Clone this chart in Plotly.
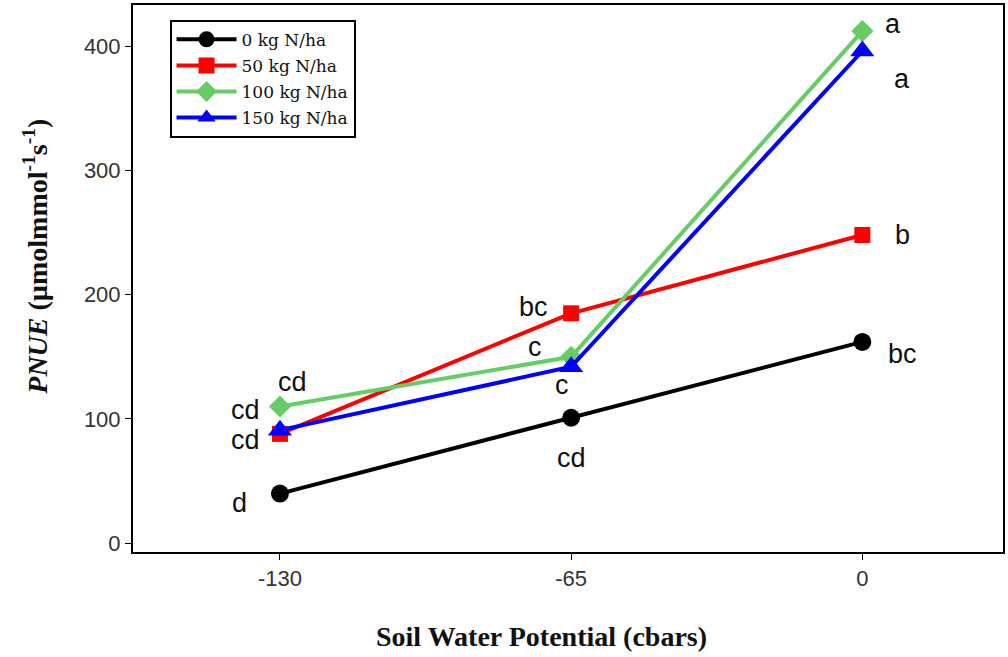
import plotly.graph_objects as go

# ---- data ----
x_vals = [-130, -65, 0]
series_names = ["0 kg N/ha", "50 kg N/ha", "100 kg N/ha", "150 kg N/ha"]
pnue_0 = [40, 101, 162]
pnue_50 = [88, 185, 248]
pnue_100 = [110, 150, 412]
pnue_150 = [91, 142, 396]
labels_0 = ["d", "cd", "bc"]
labels_50 = ["cd", "bc", "b"]
labels_100 = ["cd", "c", "a"]
labels_150 = ["cd", "c", "a"]
x_ticks = [-130, -65, 0]
y_ticks = [0, 100, 200, 300, 400]

series_values = [pnue_0, pnue_50, pnue_100, pnue_150]
series_labels = [labels_0, labels_50, labels_100, labels_150]

# ---- styles ----
colors = ["#000000", "#ff0000", "#66cc66", "#0000ff"]
symbols = ["circle", "square", "diamond", "triangle-up"]
msizes = [18, 16, 17, 21]
# pixel offsets (xshift, yshift) for each letter label
offsets = [
    [(-40, -9), (0, -40), (40, -12)],
    [(-34, -6), (-38, 6), (40, 0)],
    [(13, 25), (-36, 10), (31, 7)],
    [(-34, 20), (-9, -18), (40, -28)],
]

fig = go.Figure()
for i, (name, vals, col, sym, ms) in enumerate(zip(series_names, series_values, colors, symbols, msizes)):
    fig.add_trace(go.Scatter(
        x=x_vals, y=vals, name=name, mode="lines+markers",
        legendgroup=f"g{i}",
        line=dict(color=col, width=4),
        marker=dict(symbol=sym, size=ms, color=col),
    ))

annotations = []
for vals, labs, offs in zip(series_values, series_labels, offsets):
    for xv, yv, lab, (dx, dy) in zip(x_vals, vals, labs, offs):
        annotations.append(dict(
            x=xv, y=yv, xref="x", yref="y", text=lab, showarrow=False,
            xshift=dx, yshift=dy,
            font=dict(family="Liberation Sans, Arial", size=27, color="#111111"),
        ))

annotations.append(dict(
    x=0.47, y=-0.155, xref="paper", yref="paper",
    text="<b>Soil Water Potential (cbars)</b>", showarrow=False,
    xanchor="center", yanchor="middle",
    font=dict(family="Liberation Serif, Times New Roman", size=28, color="#111111"),
))
annotations.append(dict(
    x=-0.112, y=0.539, xref="paper", yref="paper",
    text="<b><i>PNUE</i> (µmolmmol<sup>-1</sup>s<sup>-1</sup>)</b>", showarrow=False,
    textangle=-90, xanchor="center", yanchor="middle",
    font=dict(family="Liberation Serif, Times New Roman", size=28, color="#111111"),
))

fig.update_layout(
    width=1008, height=657,
    margin=dict(l=133, r=3, t=5, b=105),
    paper_bgcolor="white", plot_bgcolor="white",
    showlegend=True,
    legend=dict(
        x=0.042, y=0.973, xanchor="left", yanchor="top",
        bgcolor="white", bordercolor="#000000", borderwidth=2,
        font=dict(family="DejaVu Serif, Liberation Serif", size=17, color="#111111"),
        itemwidth=60, tracegroupgap=1,
    ),
    annotations=annotations,
)
fig.update_xaxes(
    range=[-162.8, 31.4], tickvals=x_ticks, ticktext=[str(t) for t in x_ticks],
    showgrid=False, zeroline=False, showline=True, linecolor="#000000", linewidth=2,
    mirror=True, ticks="outside", ticklen=6, tickcolor="#000000",
    tickfont=dict(family="Liberation Sans, Arial", size=22, color="#333333"),
)
fig.update_yaxes(
    range=[-7, 433], tickvals=y_ticks,
    showgrid=False, zeroline=False, showline=True, linecolor="#000000", linewidth=2,
    mirror=True, ticks="outside", ticklen=6, tickcolor="#000000",
    tickfont=dict(family="Liberation Sans, Arial", size=22, color="#333333"),
)

fig.write_html("out.html", config={"displayModeBar": False},
               post_script="document.body.style.margin='0px';")
